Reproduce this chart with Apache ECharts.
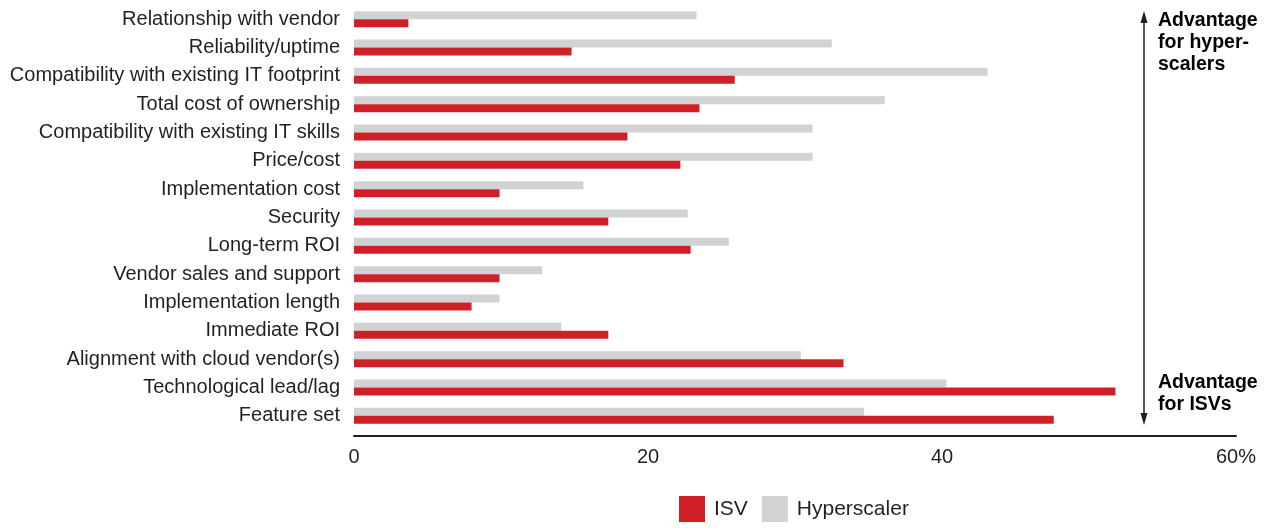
<!DOCTYPE html>
<html>
<head>
<meta charset="utf-8">
<script src="https://cdn.jsdelivr.net/npm/echarts@6/dist/echarts.min.js"></script>
<style>html,body{margin:0;padding:0;background:#fff;}#c{width:1270px;height:531px;}</style>
</head>
<body>
<div id="c"></div>
<script>
const categories = [
  'Relationship with vendor',
  'Reliability/uptime',
  'Compatibility with existing IT footprint',
  'Total cost of ownership',
  'Compatibility with existing IT skills',
  'Price/cost',
  'Implementation cost',
  'Security',
  'Long-term ROI',
  'Vendor sales and support',
  'Implementation length',
  'Immediate ROI',
  'Alignment with cloud vendor(s)',
  'Technological lead/lag',
  'Feature set'
];
const isvValues = [3.7, 14.8, 25.9, 23.5, 18.6, 22.2, 9.9, 17.3, 22.9, 9.9, 8.0, 17.3, 33.3, 51.8, 47.6];
const hyperscalerValues = [23.3, 32.5, 43.1, 36.1, 31.2, 31.2, 15.6, 22.7, 25.5, 12.8, 9.9, 14.1, 30.4, 40.3, 34.7];
const xTicks = [0, 20, 40, 60];

const chart = echarts.init(document.getElementById('c'), null, {renderer: 'canvas'});
const font = "'Liberation Sans', Arial, sans-serif";
const txt = '#231f20';
chart.setOption({
  animation: false,
  backgroundColor: '#fff',
  grid: {left: 354, right: 34, top: 5, bottom: 101, containLabel: false},
  legend: {
    data: ['ISV', 'Hyperscaler'],
    left: 674, bottom: 4,
    itemWidth: 26, itemHeight: 26, itemGap: 14,
    icon: 'rect',
    textStyle: {fontFamily: font, fontSize: 21, color: txt, padding: [0, 0, 0, 4]}
  },
  xAxis: {
    type: 'value', min: xTicks[0], max: xTicks[xTicks.length - 1], interval: 20,
    offset: 6,
    axisLine: {show: true, lineStyle: {color: '#231f20', width: 2}},
    axisTick: {show: false},
    splitLine: {show: false},
    axisLabel: {
      margin: 11,
      fontFamily: font, fontSize: 20, color: txt,
      formatter: v => v === 60 ? '60%' : String(v)
    }
  },
  yAxis: {
    type: 'category', data: categories, inverse: true,
    axisLine: {show: false}, axisTick: {show: false},
    axisLabel: {margin: 14, fontFamily: font, fontSize: 20, color: txt}
  },
  series: [
    {name: 'Hyperscaler', type: 'bar', data: hyperscalerValues, barWidth: 8, barGap: '0%',
     itemStyle: {color: '#d1d2d4'}},
    {name: 'ISV', type: 'bar', data: isvValues, barWidth: 8, barGap: '0%',
     itemStyle: {color: '#cf2028'}}
  ],
  graphic: [
    {type: 'line', shape: {x1: 1144, y1: 16, x2: 1144, y2: 420}, style: {stroke: '#231f20', lineWidth: 1.5}},
    {type: 'polygon', shape: {points: [[1144, 11], [1140.5, 23], [1147.5, 23]]}, style: {fill: '#231f20'}},
    {type: 'polygon', shape: {points: [[1144, 425], [1140.5, 413], [1147.5, 413]]}, style: {fill: '#231f20'}},
    {type: 'text', left: 1158, top: 10, style: {text: 'Advantage\nfor hyper-\nscalers', fill: '#000', font: "bold 19.5px 'Liberation Sans', Arial, sans-serif", lineHeight: 22}},
    {type: 'text', left: 1158, top: 372, style: {text: 'Advantage\nfor ISVs', fill: '#000', font: "bold 19.5px 'Liberation Sans', Arial, sans-serif", lineHeight: 22}}
  ]
});
</script>
</body>
</html>
